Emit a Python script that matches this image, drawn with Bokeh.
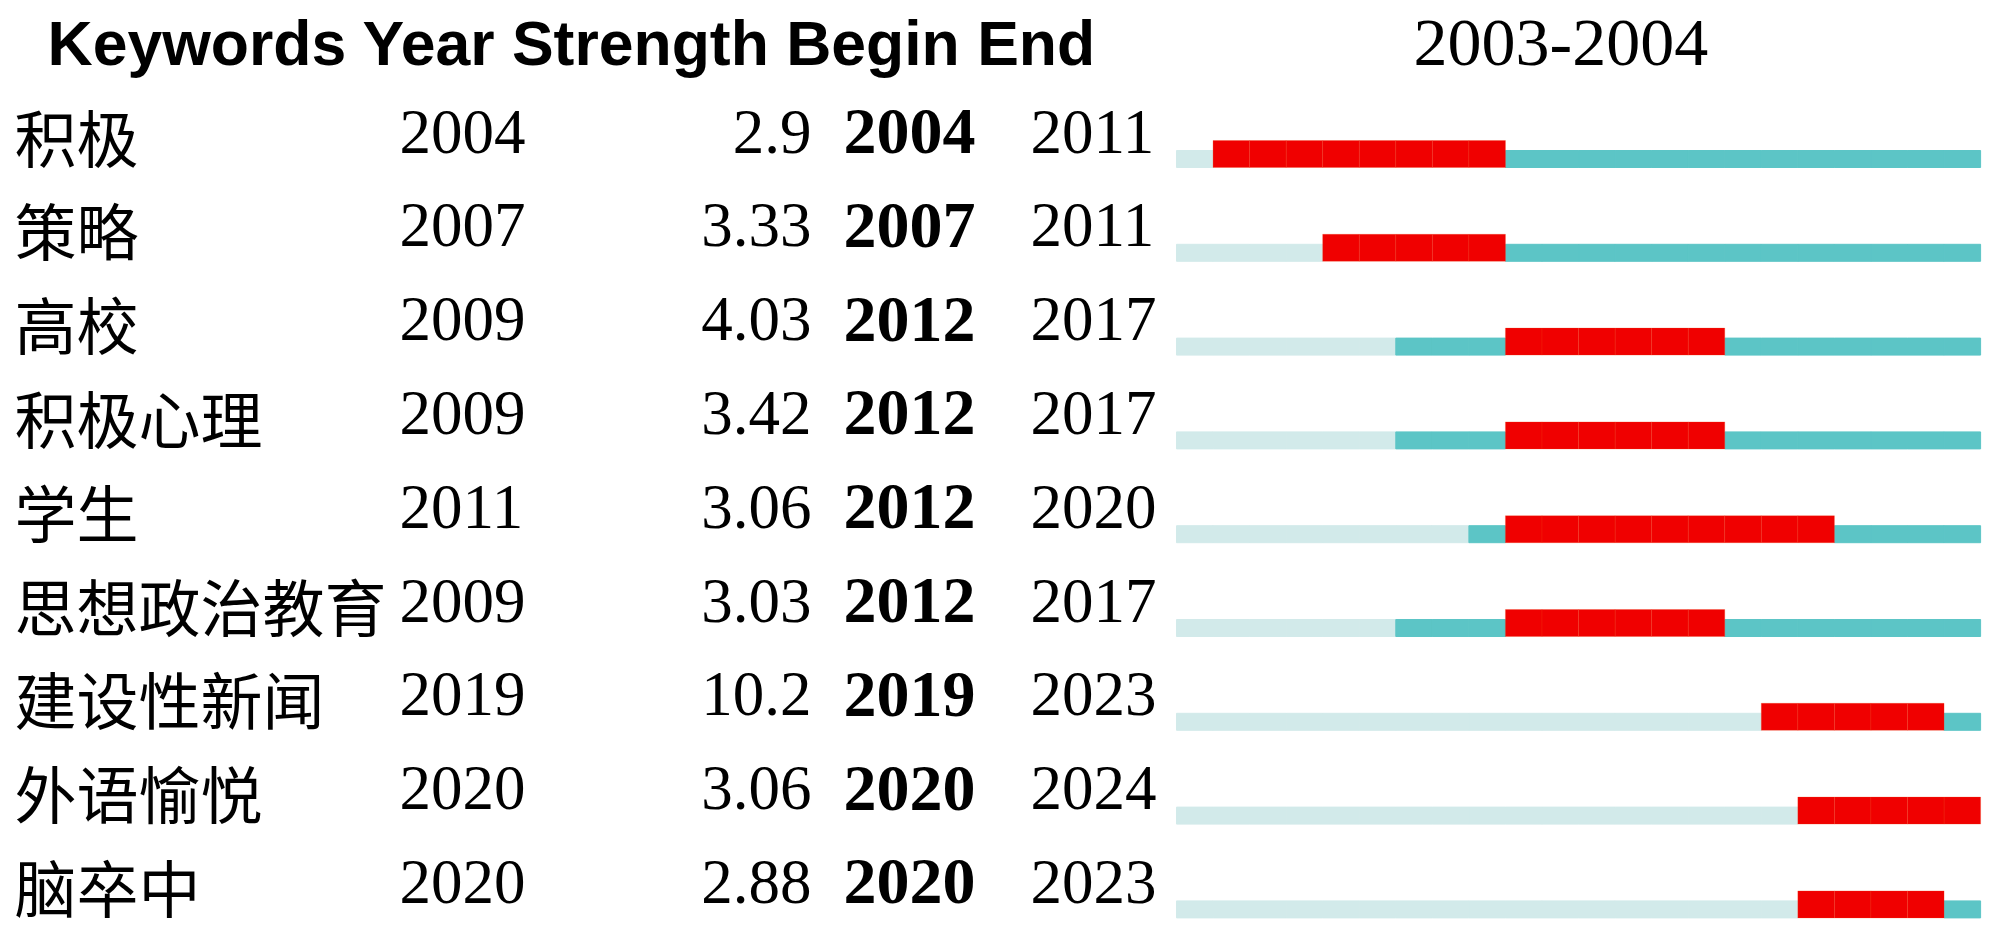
from bokeh.plotting import figure
from bokeh.models import Range1d, ColumnDataSource
from bokeh.core.properties import value
from bokeh.embed import file_html
from bokeh.resources import INLINE

# ---- data ----
keywords = ["积极", "策略", "高校", "积极心理", "学生", "思想政治教育", "建设性新闻", "外语愉悦", "脑卒中"]
years = [2004, 2007, 2009, 2009, 2011, 2009, 2019, 2020, 2020]
strengths = [2.9, 3.33, 4.03, 3.42, 3.06, 3.03, 10.2, 3.06, 2.88]
begins = [2004, 2007, 2012, 2012, 2012, 2012, 2019, 2020, 2020]
ends = [2011, 2011, 2017, 2017, 2020, 2017, 2023, 2024, 2023]
span_start, span_end = 2003, 2024
header = "Keywords Year Strength Begin End"
span_title = "2003-2004"

# ---- layout ----
W, H = 1983, 932
PX = 36.55            # pixels per year
X2003 = 1176          # figure px of span start
RS = 93.8             # row spacing px
ROW0 = 167            # figure px of first bar bottom


def dx(px):
    return span_start + (px - X2003) / PX


def dy(py):
    return (py - ROW0) / RS


p = figure(width=W, height=H, x_range=Range1d(dx(0), dx(W)),
           y_range=Range1d(dy(H), dy(0)), output_backend="svg",
           toolbar_location=None, min_border=0)
p.axis.visible = False
p.grid.visible = False
p.outline_line_color = None
p.background_fill_color = "white"
p.border_fill_color = "white"

LIGHT = "#D2EAEA"
DARK = "#5CC5C6"
RED = "#F00000"

cells = {"l": [], "r": [], "t": [], "b": [], "c": [], "lc": []}
red = {"l": [], "r": [], "t": [], "b": []}
for i in range(len(keywords)):
    for yr in range(span_start, span_end + 1):
        if begins[i] <= yr <= ends[i]:
            red["l"].append(yr); red["r"].append(yr + 1)
            red["t"].append(i - 27 / RS); red["b"].append(i)
        else:
            c = LIGHT if yr < years[i] else DARK
            cells["l"].append(yr); cells["r"].append(yr + 1)
            cells["t"].append(i - 17 / RS); cells["b"].append(i)
            cells["c"].append(c); cells["lc"].append(c)

p.quad(left="l", right="r", top="t", bottom="b", fill_color="c",
       line_color="lc", line_width=1, source=ColumnDataSource(cells))
p.quad(left="l", right="r", top="t", bottom="b", fill_color=RED,
       line_color="#F43C10", line_width=1, line_alpha=0.25,
       source=ColumnDataSource(red))

rows = list(range(len(keywords)))
src = ColumnDataSource(dict(
    ky=[r + dy(135) for r in rows], y=[r + dy(131) for r in rows],
    kw=keywords, year=[str(v) for v in years],
    s=[f"{v:g}" for v in strengths], b=[str(v) for v in begins],
    e=[str(v) for v in ends],
))

p.text(x=dx(14), y="ky", text="kw", source=src, text_font=value("Noto Sans CJK SC"),
       text_font_size="62px", text_baseline="middle", text_align="left", text_color="black")
p.text(x=dx(399), y="y", text="year", source=src, text_font=value("Liberation Serif"),
       text_font_size="63px", text_baseline="middle", text_align="left", text_color="black")
p.text(x=dx(811), y="y", text="s", source=src, text_font=value("Liberation Serif"),
       text_font_size="63px", text_baseline="middle", text_align="right", text_color="black")
p.text(x=dx(843), y="y", text="b", source=src, text_font=value("Liberation Serif"),
       text_font_size="66px", text_font_style="bold", text_baseline="middle",
       text_align="left", text_color="black")
p.text(x=dx(1030), y="y", text="e", source=src, text_font=value("Liberation Serif"),
       text_font_size="63px", text_baseline="middle", text_align="left", text_color="black")

p.text(x=[dx(47)], y=[dy(42)], text=[header], text_font=value("Liberation Sans"),
       text_font_size="62.5px", text_font_style="bold", text_baseline="middle",
       text_align="left", text_color="black")
p.text(x=[dx(1413)], y=[dy(42)], text=[span_title], text_font=value("Liberation Serif"),
       text_font_size="68px", text_baseline="middle", text_align="left", text_color="black")

open("out.html", "w").write(file_html(p, INLINE))
